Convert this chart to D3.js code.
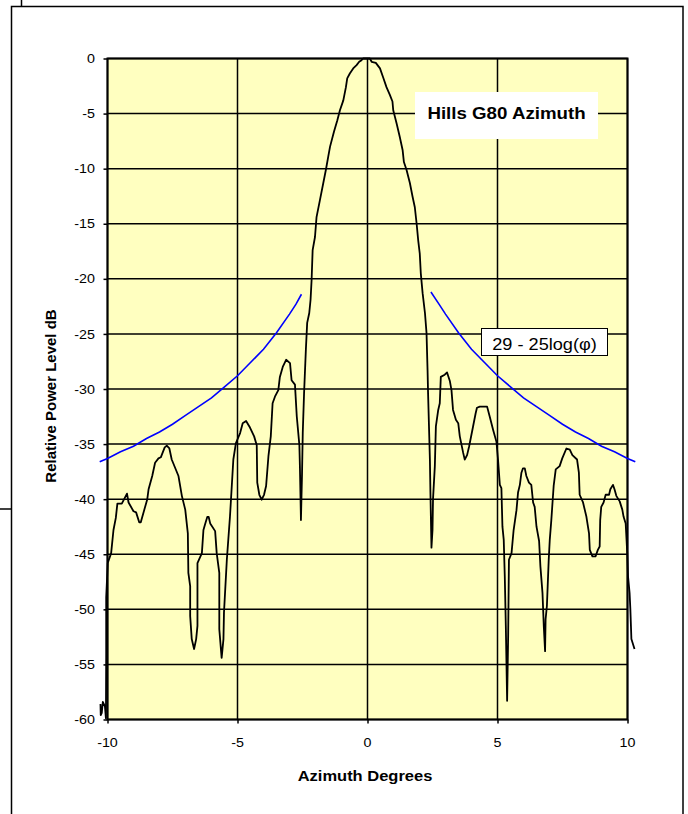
<!DOCTYPE html>
<html>
<head>
<meta charset="utf-8">
<script src="https://cdn.jsdelivr.net/npm/d3@7"></script>
<style>
  body { margin: 0; background: #fff; }
  svg { display: block; font-family: Arial, "Liberation Sans", sans-serif; }
</style>
</head>
<body>
<svg id="chart" width="688" height="814"></svg>
<script>
// measured antenna pattern, azimuth degrees / relative dB
var pattern = [
  [-10.27,-58.6],[-10.26,-59.6],[-10.22,-59.4],[-10.18,-58.4],[-10.1,-58.8],[-10.06,-59.9],
  [-10.05,-54],[-10.05,-48.9],[-9.99,-45.8],[-9.86,-44.9],[-9.77,-42.8],[-9.68,-41.7],
  [-9.62,-40.4],[-9.45,-40.4],[-9.25,-39.5],[-9.19,-40.3],[-9.0,-41.1],[-8.9,-41.2],
  [-8.78,-42.1],[-8.72,-42.1],[-8.59,-41.0],[-8.47,-40.0],[-8.42,-39.1],[-8.28,-37.9],
  [-8.17,-36.7],[-8.04,-36.3],[-7.95,-36.2],[-7.8,-35.3],[-7.72,-35.15],[-7.62,-35.4],
  [-7.53,-36.4],[-7.27,-37.9],[-7.14,-39.7],[-7.01,-40.95],[-6.91,-43.1],[-6.89,-46.7],
  [-6.82,-47.9],[-6.82,-50.6],[-6.76,-52.7],[-6.67,-53.6],[-6.59,-52.7],[-6.54,-51.5],
  [-6.54,-45.8],[-6.37,-44.9],[-6.31,-42.8],[-6.25,-42.3],[-6.16,-41.6],[-6.11,-41.6],
  [-6.05,-42.2],[-5.86,-42.9],[-5.8,-44.9],[-5.7,-46.7],[-5.7,-51.8],[-5.61,-54.4],
  [-5.54,-52.7],[-5.52,-50.3],[-5.41,-45.5],[-5.29,-41.6],[-5.22,-38.8],[-5.16,-36.4],
  [-5.06,-34.9],[-4.9,-34.0],[-4.8,-33.1],[-4.67,-32.9],[-4.52,-33.5],[-4.36,-34.3],
  [-4.26,-35.1],[-4.24,-38.5],[-4.16,-39.6],[-4.07,-40.05],[-3.98,-39.6],[-3.9,-38.8],
  [-3.81,-36.1],[-3.72,-34.3],[-3.65,-31.3],[-3.56,-30.7],[-3.43,-30.1],[-3.37,-28.9],
  [-3.26,-28.0],[-3.13,-27.35],[-2.98,-27.65],[-2.92,-29.2],[-2.79,-29.6],[-2.72,-32.5],
  [-2.62,-35.1],[-2.6,-37.0],[-2.56,-41.9],[-2.52,-37.9],[-2.49,-34.0],[-2.44,-30.4],
  [-2.37,-26.4],[-2.32,-24.0],[-2.24,-23.1],[-2.19,-21.9],[-2.15,-20.1],[-2.11,-17.4],
  [-2.02,-16.2],[-1.96,-14.4],[-1.83,-12.85],[-1.7,-11.3],[-1.6,-10.1],[-1.51,-8.9],
  [-1.44,-8.0],[-1.29,-6.65],[-1.16,-5.6],[-1.06,-4.7],[-0.93,-3.8],[-0.83,-2.6],
  [-0.78,-1.8],[-0.68,-1.36],[-0.55,-0.9],[-0.42,-0.6],[-0.32,-0.3],[-0.23,-0.15],
  [-0.17,0],[0.09,0],[0.16,-0.3],[0.32,-0.4],[0.48,-0.9],[0.6,-1.7],[0.73,-2.6],
  [0.86,-3.3],[0.96,-3.9],[0.99,-4.7],[1.12,-5.9],[1.24,-7.1],[1.35,-8.3],[1.4,-9.4],
  [1.5,-10.1],[1.63,-11.3],[1.73,-12.5],[1.82,-13.5],[1.89,-15.0],[1.95,-16.5],
  [2.01,-17.7],[2.05,-19.5],[2.12,-21.3],[2.21,-23.1],[2.27,-24.9],[2.31,-28.3],
  [2.33,-30.4],[2.4,-36.4],[2.42,-39.4],[2.46,-44.4],[2.5,-42.8],[2.52,-40.0],
  [2.59,-37.0],[2.63,-33.4],[2.72,-31.9],[2.78,-31.3],[2.82,-28.9],[2.97,-28.7],
  [3.06,-28.5],[3.17,-29.3],[3.23,-30.1],[3.29,-31.9],[3.4,-32.8],[3.49,-33.1],
  [3.55,-34.3],[3.68,-35.8],[3.74,-36.4],[3.83,-36.0],[3.91,-35.2],[4.06,-33.4],
  [4.16,-32.2],[4.21,-31.7],[4.32,-31.6],[4.6,-31.6],[4.7,-32.5],[4.83,-33.7],
  [4.96,-34.8],[5.02,-36.4],[5.09,-38.7],[5.15,-39.0],[5.19,-42.5],[5.24,-43.7],
  [5.28,-47.0],[5.32,-51.5],[5.37,-58.3],[5.41,-52.4],[5.44,-45.5],[5.54,-44.9],
  [5.62,-42.8],[5.73,-41.0],[5.79,-39.4],[5.86,-38.7],[5.92,-37.6],[5.98,-37.2],
  [6.05,-37.2],[6.11,-37.9],[6.21,-38.5],[6.3,-38.7],[6.37,-40.3],[6.43,-40.7],
  [6.5,-42.5],[6.6,-43.8],[6.65,-46.1],[6.73,-48.5],[6.78,-51.5],[6.83,-53.8],
  [6.85,-50.9],[6.9,-49.7],[6.97,-45.5],[7.01,-43.7],[7.07,-41.9],[7.16,-38.8],
  [7.24,-37.3],[7.39,-37.0],[7.49,-36.3],[7.65,-35.4],[7.78,-35.5],[7.88,-36.0],
  [8.06,-36.4],[8.13,-37.6],[8.16,-39.6],[8.29,-40.3],[8.42,-41.6],[8.52,-43.1],
  [8.55,-44.6],[8.65,-45.2],[8.77,-45.2],[8.86,-44.6],[8.93,-44.3],[8.95,-41.9],
  [8.99,-40.7],[9.08,-40.3],[9.16,-39.6],[9.29,-39.6],[9.34,-39.1],[9.44,-38.7],
  [9.5,-39.1],[9.57,-39.7],[9.7,-40.2],[9.8,-40.95],[9.85,-41.6],[9.93,-42.2],
  [9.95,-43.1],[9.99,-44.9],[10.02,-47.0],[10.08,-48.5],[10.11,-50.0],[10.15,-52.7],
  [10.27,-53.6]
];

// 29 - 25log(phi) envelope (both sides)
var maskLeftDeg  = [-10.3,-10,-9.5,-9,-8.5,-8,-7.5,-7,-6.5,-6,-5.5,-5,-4.5,-4,-3.5,-3,-2.75,-2.54];
var maskLeftDb   = [-36.6,-36.3,-35.7,-35.2,-34.5,-33.9,-33.2,-32.4,-31.6,-30.8,-29.8,-28.8,-27.6,-26.4,-24.9,-23.2,-22.3,-21.4];
var maskRightDeg = [2.44,2.75,3,3.5,4,4.5,5,5.5,6,6.5,7,7.5,8,8.5,9,9.5,10,10.3];
var maskRightDb  = [-21.2,-22.3,-23.2,-24.9,-26.4,-27.6,-28.8,-29.8,-30.8,-31.6,-32.4,-33.2,-33.9,-34.5,-35.2,-35.7,-36.3,-36.6];

var xTicks = [-10,-5,0,5,10];
var yTicks = [0,-5,-10,-15,-20,-25,-30,-35,-40,-45,-50,-55,-60];

var titleText = "Hills G80 Azimuth";
var maskLabel = "29 - 25log(\u03c6)";

var svg = d3.select("#chart");
var SX = 1.1; // the original text is a little wider than Arial

function label(px, py, str, size, weight, anchor, rot) {
  return svg.append("text")
    .attr("transform","translate("+px+","+py+")"+(rot ? " rotate("+rot+")" : "")+" scale("+SX+",1)")
    .attr("text-anchor",anchor||"middle").attr("font-size",size)
    .attr("font-weight",weight||"normal").attr("fill","#000").text(str);
}

// outer frames
svg.append("rect").attr("x",11.5).attr("y",6.5).attr("width",671.5).attr("height",830)
   .attr("fill","none").attr("stroke","#000").attr("stroke-width",1.5);
svg.append("line").attr("x1",21.5).attr("x2",21.5).attr("y1",0).attr("y2",6)
   .attr("stroke","#000").attr("stroke-width",1.5);
svg.append("line").attr("x1",0).attr("x2",11).attr("y1",509).attr("y2",509)
   .attr("stroke","#000").attr("stroke-width",1.5);

var x = d3.scaleLinear().domain([-10,10]).range([107.5,627.5]);
var y = d3.scaleLinear().domain([-60,0]).range([719.5,58.5]);

svg.append("rect").attr("x",x(-10)).attr("y",y(0))
   .attr("width",x(10)-x(-10)).attr("height",y(-60)-y(0))
   .attr("fill","#FFFFC0");

// grid
var grid = svg.append("g");
grid.selectAll(".vg").data(xTicks).enter().append("line")
   .attr("x1",d=>x(d)).attr("x2",d=>x(d)).attr("y1",y(0)).attr("y2",y(-60))
   .attr("stroke","#000").attr("stroke-width",1.5);
grid.selectAll(".hg").data(yTicks).enter().append("line")
   .attr("x1",x(-10)).attr("x2",x(10)).attr("y1",d=>y(d)).attr("y2",d=>y(d))
   .attr("stroke","#000").attr("stroke-width",1.5);

// axes: tick marks from d3, labels drawn separately so they can be widened
var yAxis = svg.append("g").attr("transform","translate("+x(-10)+",0)")
   .call(d3.axisLeft(y).tickValues(yTicks).tickSize(4).tickFormat(""));
var xAxis = svg.append("g").attr("transform","translate(0,"+y(-60)+")")
   .call(d3.axisBottom(x).tickValues(xTicks).tickSize(4).tickFormat(""));
[yAxis,xAxis].forEach(function(a){
  a.select(".domain").remove();
  a.selectAll("line").attr("stroke","#000").attr("stroke-width",1.5);
});
yTicks.forEach(function(d){ label(x(-10)-12.5, y(d)+4.6, String(d), 13, "normal", "end"); });
xTicks.forEach(function(d){ label(x(d), y(-60)+27, String(d), 13, "normal", "middle"); });

// plot border
svg.append("rect").attr("x",x(-10)).attr("y",y(0))
   .attr("width",x(10)-x(-10)).attr("height",y(-60)-y(0))
   .attr("fill","none").attr("stroke","#000").attr("stroke-width",2);

// mask curve
var line = d3.line().x(d=>x(d[0])).y(d=>y(d[1]));
[[maskLeftDeg,maskLeftDb],[maskRightDeg,maskRightDb]].forEach(function(m){
  svg.append("path").datum(m[0].map((v,i)=>[v,m[1][i]]))
     .attr("d",line).attr("fill","none").attr("stroke","#0000FF").attr("stroke-width",1.6);
});

// measured pattern
svg.append("path").datum(pattern).attr("d",line)
   .attr("fill","none").attr("stroke","#000").attr("stroke-width",1.8)
   .attr("stroke-linejoin","round");

// title box
svg.append("rect").attr("x",415).attr("y",92).attr("width",183).attr("height",47).attr("fill","#fff");
label(506.5, 119, titleText, 17, "bold");

// mask label
svg.append("rect").attr("x",481.5).attr("y",328.5).attr("width",126).attr("height",27)
   .attr("fill","#fff").attr("stroke","#000").attr("stroke-width",1);
label(544.5, 349.5, maskLabel, 16.5);

// axis titles
svg.append("text").attr("transform","translate(56,396) rotate(-90)")
   .attr("text-anchor","middle").attr("font-size",15).attr("font-weight","bold")
   .text("Relative Power Level dB");
label(365, 781, "Azimuth Degrees", 15, "bold");
</script>
</body>
</html>
